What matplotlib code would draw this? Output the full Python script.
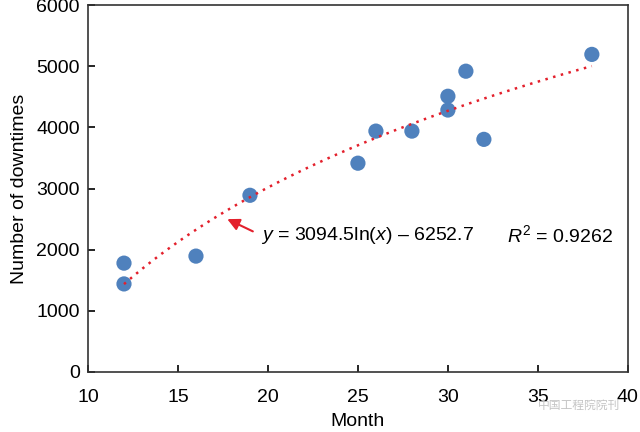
import numpy as np
import matplotlib
matplotlib.use("Agg")
import matplotlib.pyplot as plt

plt.rcParams["font.family"] = ["Liberation Sans", "DejaVu Sans"]
plt.rcParams["mathtext.fontset"] = "custom"
plt.rcParams["mathtext.rm"] = "Liberation Sans"
plt.rcParams["mathtext.it"] = "Liberation Sans:italic"

# observed downtimes per month
months = [12, 12, 16, 19, 25, 26, 28, 30, 30, 31, 32, 38]
downtimes = [1780, 1440, 1895, 2890, 3415, 3940, 3940, 4510, 4285, 4920, 3805, 5195]

# logarithmic trend line as reported in the chart
coef_a = 3094.5
coef_b = -6252.7
r_squared = 0.9262

fig = plt.figure(figsize=(6.4, 4.32), dpi=100)
ax = fig.add_axes([0.1375, 0.139, 0.8435, 0.849])

ax.scatter(months, downtimes, s=120, color="#4f81bd", zorder=3, edgecolors="none")

xs = np.linspace(min(months), max(months), 200)
ax.plot(xs, coef_a * np.log(xs) + coef_b, color="#e3202c", linestyle=(0, (1, 2.2)),
        linewidth=1.8, zorder=4)

ax.annotate("", xy=(17.6, 2520), xytext=(19.3, 2280),
            arrowprops=dict(arrowstyle="-|>", color="#e3202c", lw=1.5,
                            mutation_scale=18))
ax.text(19.6, 2240, "$\\mathit{y}$ = 3094.5ln($\\mathit{x}$) \u2013 6252.7",
        fontsize=14, va="center", ha="left")
ax.text(33.3, 2240, "$\\mathit{R}^2$ = %.4f" % r_squared,
        fontsize=14, va="center", ha="left")

ax.set_xlim(10, 40)
ax.set_ylim(0, 6000)
ax.set_xticks(range(10, 41, 5))
ax.set_yticks(range(0, 6001, 1000))
ax.tick_params(direction="in", labelsize=14, length=5, width=1.2)
ax.tick_params(axis="x", pad=12)
ax.tick_params(axis="y", pad=6)
for side in ax.spines.values():
    side.set_linewidth(1.2)
    side.set_color("#333333")

ax.set_xlabel("Month", fontsize=14, labelpad=5)
ax.set_ylabel("Number of downtimes", fontsize=14, labelpad=6)

# watermark
fig.text(0.84, 0.062, "中国工程院院刊", fontsize=8.5, color="#c4c4c4",
         family=["Noto Sans CJK SC", "DejaVu Sans"], va="center", ha="left")

fig.savefig("out.png", dpi=100)
